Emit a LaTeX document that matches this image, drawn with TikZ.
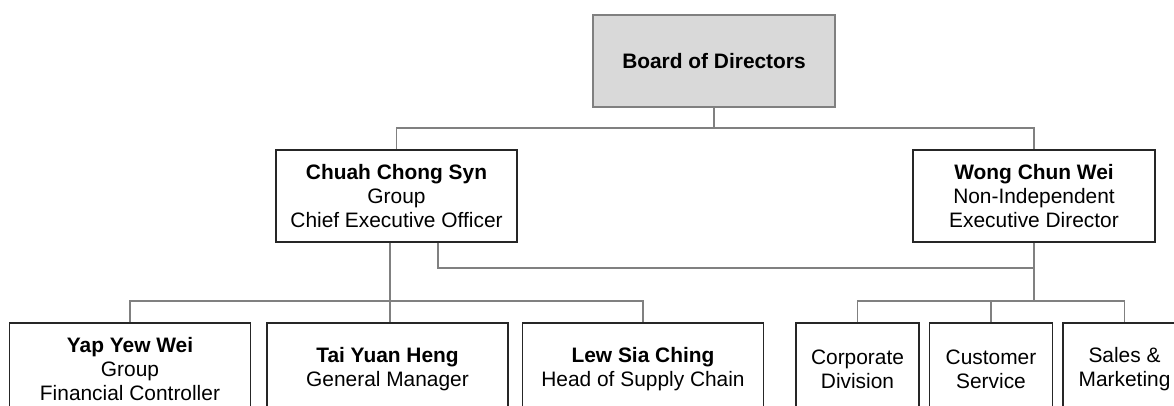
\documentclass[tikz,border=0pt]{standalone}
\usepackage{fontspec}
\setmainfont{Liberation Sans}
\definecolor{boardgray}{HTML}{D9D9D9}
\definecolor{linegray}{HTML}{808080}
\definecolor{edgegray}{HTML}{262626}

\begin{document}
\begin{tikzpicture}[x=1pt, y=-1pt,
        box/.style={draw=edgegray, line width=1.1pt, fill=white, inner sep=0pt,
            minimum width=241pt, minimum height=92pt, align=center,
            font=\fontsize{20.9}{24.3}\selectfont},
        smallbox/.style={box, minimum width=123pt},
        link/.style={draw=linegray, line width=1.3pt}]
                \useasboundingbox (0,0) rectangle (1174,406);
                \clip (0,0) rectangle (1174,406);

                \node[box, fill=boardgray, draw=linegray, minimum width=242pt] (board) at (714, 61) {\textbf{Board of Directors}};

                \node[box] (chuah) at (396.5, 196) {\textbf{Chuah Chong Syn}\\Group\\Chief Executive Officer};
                \node[box, minimum width=242pt] (wong) at (1034, 196) {\textbf{Wong Chun Wei}\\Non-Independent\\Executive Director};

                \node[box] (yap) at (130, 369) {\textbf{Yap Yew Wei}\\Group\\Financial Controller};
                \node[box] (tai) at (387.5, 369) {\textbf{Tai Yuan Heng}\\General Manager};
                \node[box] (lew) at (643, 369) {\textbf{Lew Sia Ching}\\Head of Supply Chain};

                \node[smallbox] (corp) at (857.5, 369) {Corporate\\Division};
                \node[smallbox] (cust) at (991, 369) {Customer\\Service};
                \node[smallbox] (sales) at (1124.5, 369) {Sales \&\\Marketing};

                \coordinate (topbus) at (0, 128);
                \coordinate (midbus) at (0, 268);
                \coordinate (lowbus) at (0, 301);
                \coordinate (cdown) at ([xshift=-6.5pt]chuah.south);
                \coordinate (cside) at ([xshift=41.5pt]chuah.south);

                \draw[link] (board.south) -- (board.south |- topbus);
                \draw[link] (chuah.north) -- (chuah.north |- topbus) -- (wong.north |- topbus) -- (wong.north);

                \draw[link] (cdown) -- (cdown |- tai.north);
                \draw[link] (yap.north) -- (yap.north |- lowbus) -- (lew.north |- lowbus) -- (lew.north);

                \draw[link] (cside) -- (cside |- midbus) -- (wong.south |- midbus);
                \draw[link] (wong.south) -- (wong.south |- lowbus);
                \draw[link] (corp.north) -- (corp.north |- lowbus) -- (sales.north |- lowbus) -- (sales.north);
                \draw[link] (cust.north) -- (cust.north |- lowbus);
            \end{tikzpicture}
\end{document}
